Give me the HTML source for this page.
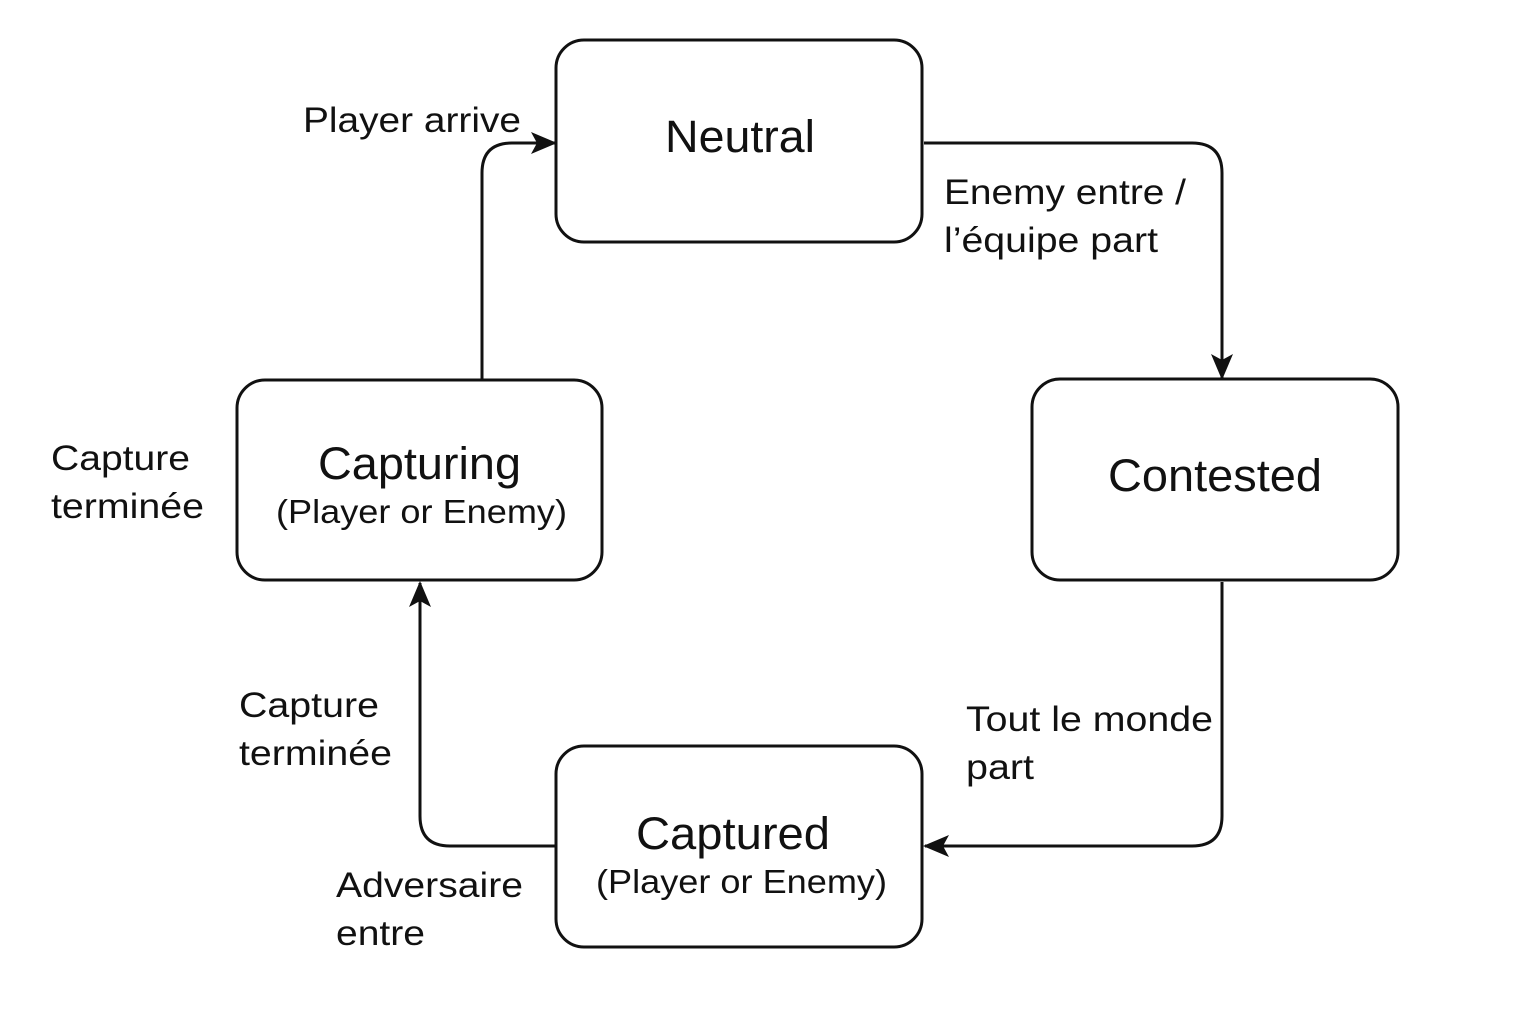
<!DOCTYPE html>
<html><head><meta charset="utf-8"><style>
html,body{margin:0;padding:0;background:#fff;}
svg{display:block}
text{font-family:"Liberation Sans",sans-serif;fill:#111}
</style></head><body>
<svg width="1536" height="1024" viewBox="0 0 1536 1024" xmlns="http://www.w3.org/2000/svg">
<defs>
<marker id="b" markerWidth="26" markerHeight="22" refX="24" refY="11" orient="auto" markerUnits="userSpaceOnUse" viewBox="0 0 26 22">
<path d="M0,0 L26,11 L0,22 L6,11 Z" fill="#111"/>
</marker>
</defs>
<g fill="none" stroke="#111" stroke-width="3">
<rect x="556" y="40" width="366" height="202" rx="28"/>
<rect x="237" y="380" width="365" height="200" rx="28"/>
<rect x="1032" y="379" width="366" height="201" rx="28"/>
<rect x="556" y="746" width="366" height="201" rx="28"/>
<path d="M924,143 H1192 Q1222,143 1222,173 V378" marker-end="url(#b)"/>
<path d="M1222,582 V816 Q1222,846 1192,846 H925" marker-end="url(#b)"/>
<path d="M556,846 H450 Q420,846 420,816 V583" marker-end="url(#b)"/>
<path d="M482,380 V173 Q482,143 512,143 H555" marker-end="url(#b)"/>
</g>
<g lengthAdjust="spacingAndGlyphs">
<text x="665" y="152" font-size="45" textLength="150" lengthAdjust="spacingAndGlyphs">Neutral</text>
<text x="318" y="479" font-size="45" textLength="203" lengthAdjust="spacingAndGlyphs">Capturing</text>
<text x="276" y="523" font-size="33" textLength="291" lengthAdjust="spacingAndGlyphs">(Player or Enemy)</text>
<text x="1108" y="491" font-size="45" textLength="214" lengthAdjust="spacingAndGlyphs">Contested</text>
<text x="636" y="849" font-size="45" textLength="194" lengthAdjust="spacingAndGlyphs">Captured</text>
<text x="596" y="893" font-size="33" textLength="291" lengthAdjust="spacingAndGlyphs">(Player or Enemy)</text>
</g>
<g font-size="35">
<text x="303" y="132" textLength="218" lengthAdjust="spacingAndGlyphs">Player arrive</text>
<text x="944" y="204" textLength="242" lengthAdjust="spacingAndGlyphs">Enemy entre /</text>
<text x="944" y="252" textLength="214" lengthAdjust="spacingAndGlyphs">l’équipe part</text>
<text x="51" y="470" textLength="139" lengthAdjust="spacingAndGlyphs">Capture</text>
<text x="51" y="518" textLength="153" lengthAdjust="spacingAndGlyphs">terminée</text>
<text x="966" y="731" textLength="247" lengthAdjust="spacingAndGlyphs">Tout le monde</text>
<text x="966" y="779" textLength="68" lengthAdjust="spacingAndGlyphs">part</text>
<text x="239" y="717" textLength="140" lengthAdjust="spacingAndGlyphs">Capture</text>
<text x="239" y="765" textLength="153" lengthAdjust="spacingAndGlyphs">terminée</text>
<text x="336" y="897" textLength="187" lengthAdjust="spacingAndGlyphs">Adversaire</text>
<text x="336" y="945" textLength="89" lengthAdjust="spacingAndGlyphs">entre</text>
</g>
</svg>
</body></html>
